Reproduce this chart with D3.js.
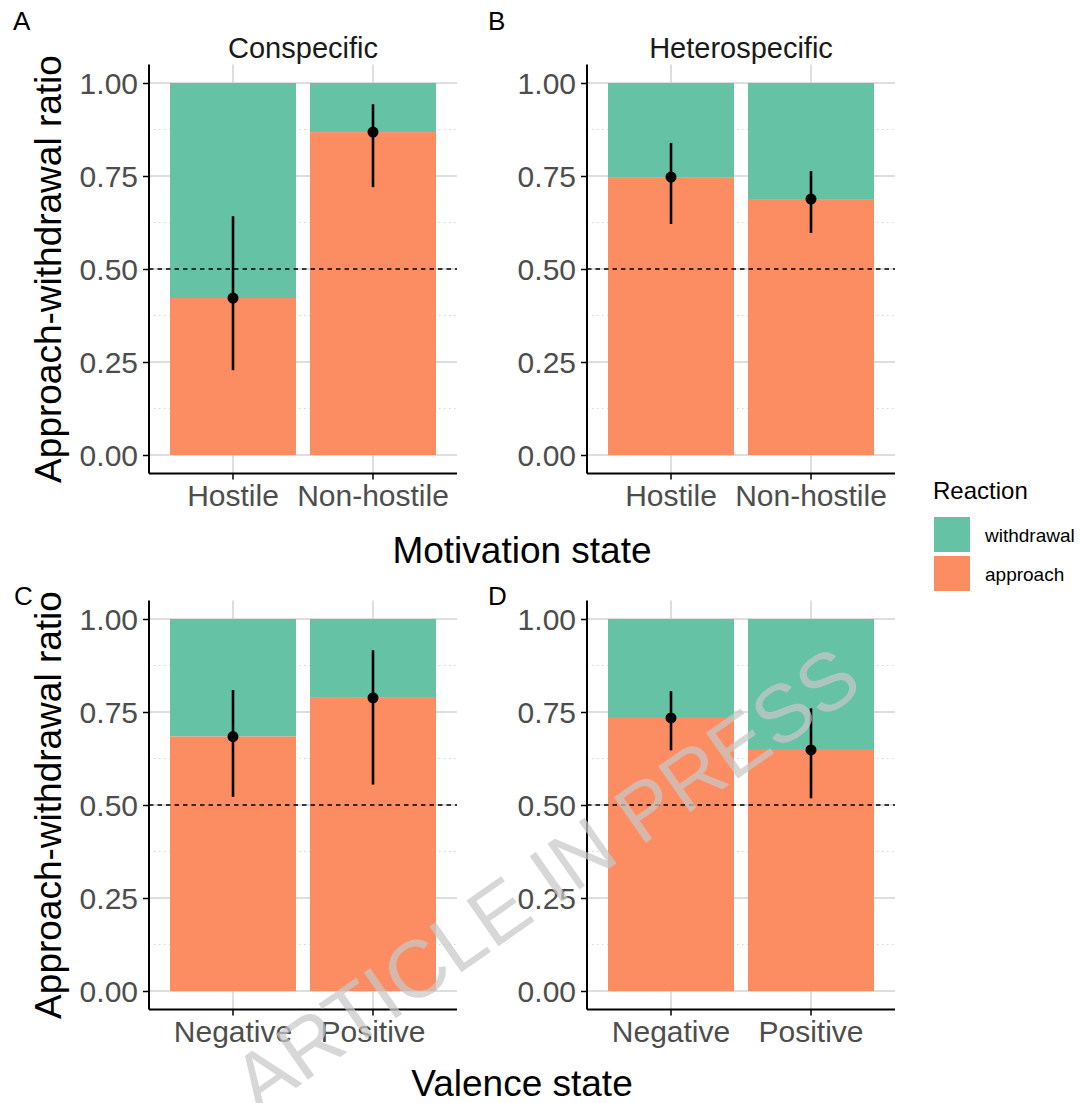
<!DOCTYPE html>
<html>
<head>
<meta charset="utf-8">
<script src="https://cdn.jsdelivr.net/npm/d3@7"></script>
<style>
  html, body { margin: 0; padding: 0; background: #fff; }
  svg { display: block; font-family: "Liberation Sans", Arial, sans-serif; }
</style>
</head>
<body>
<svg id="chart" width="1080" height="1103"></svg>
<script>
// ---------- data ----------
const facetTitles = ["Conspecific", "Heterospecific"];
const motivationCats = ["Hostile", "Non-hostile"];
const valenceCats = ["Negative", "Positive"];
const panelLetters = ["A", "B", "C", "D"];

// approach proportion (bar split), CI low, CI high
const conspecificMotivation     = [0.422, 0.868];
const conspecificMotivationLow  = [0.228, 0.720];
const conspecificMotivationHigh = [0.642, 0.943];

const heterospecificMotivation     = [0.747, 0.688];
const heterospecificMotivationLow  = [0.621, 0.597];
const heterospecificMotivationHigh = [0.839, 0.763];

const conspecificValence     = [0.684, 0.788];
const conspecificValenceLow  = [0.522, 0.555];
const conspecificValenceHigh = [0.809, 0.916];

const heterospecificValence     = [0.734, 0.648];
const heterospecificValenceLow  = [0.647, 0.518];
const heterospecificValenceHigh = [0.806, 0.760];

const yTicks = [0, 0.25, 0.5, 0.75, 1];
const yMinorTicks = [0.125, 0.375, 0.625, 0.875];
const reactionLabels = ["withdrawal", "approach"];
const reactionColors = ["#66c2a5", "#fc8d62"];
const referenceLine = 0.5;

// ---------- layout ----------
const svg = d3.select("#chart");
const FONT = '"Liberation Sans", Arial, sans-serif';
const panelW = 308;
const colX = [149, 587];
const rowY = [{ top: 64.4, bottom: 473.6 }, { top: 600.4, bottom: 1009.6 }];

const panelsDef = [
  { letter: panelLetters[0], col: 0, row: 0, cats: motivationCats, p: conspecificMotivation, lo: conspecificMotivationLow, hi: conspecificMotivationHigh, strip: facetTitles[0] },
  { letter: panelLetters[1], col: 1, row: 0, cats: motivationCats, p: heterospecificMotivation, lo: heterospecificMotivationLow, hi: heterospecificMotivationHigh, strip: facetTitles[1] },
  { letter: panelLetters[2], col: 0, row: 1, cats: valenceCats, p: conspecificValence, lo: conspecificValenceLow, hi: conspecificValenceHigh, strip: null },
  { letter: panelLetters[3], col: 1, row: 1, cats: valenceCats, p: heterospecificValence, lo: heterospecificValenceLow, hi: heterospecificValenceHigh, strip: null }
];

const letterPos = [[13, 30], [488, 30], [14, 605], [488, 605]];

panelsDef.forEach((pd, idx) => {
  const x0 = colX[pd.col], x1 = x0 + panelW;
  const r = rowY[pd.row];
  const y = d3.scaleLinear().domain([-0.05, 1.05]).range([r.bottom, r.top]);
  const x = d3.scaleBand().domain(pd.cats).range([x0, x1]).paddingInner(0.1).paddingOuter(0.15);
  const g = svg.append("g");

  // minor gridlines
  g.selectAll("line.minor").data(yMinorTicks).join("line")
    .attr("x1", x0).attr("x2", x1)
    .attr("y1", d => y(d)).attr("y2", d => y(d))
    .attr("stroke", "#d6d6d6").attr("stroke-width", 1).attr("stroke-dasharray", "1.5,3.5");
  // major gridlines
  g.selectAll("line.major").data(yTicks).join("line")
    .attr("x1", x0).attr("x2", x1)
    .attr("y1", d => y(d)).attr("y2", d => y(d))
    .attr("stroke", "#d3d3d3").attr("stroke-width", 1.5);
  g.selectAll("line.vmajor").data(pd.cats).join("line")
    .attr("x1", d => x(d) + x.bandwidth() / 2).attr("x2", d => x(d) + x.bandwidth() / 2)
    .attr("y1", r.top).attr("y2", r.bottom)
    .attr("stroke", "#d3d3d3").attr("stroke-width", 1.5);

  // stacked bars
  const rows = pd.cats.map((c, i) => ({ c, p: pd.p[i], lo: pd.lo[i], hi: pd.hi[i] }));
  g.selectAll("rect.withdraw").data(rows).join("rect")
    .attr("x", d => x(d.c)).attr("width", x.bandwidth())
    .attr("y", y(1)).attr("height", d => y(d.p) - y(1))
    .attr("fill", reactionColors[0]);
  g.selectAll("rect.approach").data(rows).join("rect")
    .attr("x", d => x(d.c)).attr("width", x.bandwidth())
    .attr("y", d => y(d.p)).attr("height", d => y(0) - y(d.p))
    .attr("fill", reactionColors[1]);

  // reference line
  g.append("line")
    .attr("x1", x0).attr("x2", x1)
    .attr("y1", y(referenceLine)).attr("y2", y(referenceLine))
    .attr("stroke", "#000").attr("stroke-width", 1.3).attr("stroke-dasharray", "4.5,4");

  // error bars + points
  g.selectAll("line.err").data(rows).join("line")
    .attr("x1", d => x(d.c) + x.bandwidth() / 2).attr("x2", d => x(d.c) + x.bandwidth() / 2)
    .attr("y1", d => y(d.lo)).attr("y2", d => y(d.hi))
    .attr("stroke", "#000").attr("stroke-width", 2.6);
  g.selectAll("circle.pt").data(rows).join("circle")
    .attr("cx", d => x(d.c) + x.bandwidth() / 2).attr("cy", d => y(d.p))
    .attr("r", 5.5).attr("fill", "#000");

  // axes
  const yAxis = d3.axisLeft(y).tickValues(yTicks).tickFormat(d3.format(".2f")).tickSize(6).tickPadding(5);
  const ya = g.append("g").attr("transform", `translate(${x0},0)`).call(yAxis);
  ya.select(".domain").attr("d", `M0,${r.top}V${r.bottom}`).attr("stroke", "#000").attr("stroke-width", 2);
  ya.selectAll(".tick line").attr("stroke", "#000").attr("stroke-width", 1.5);
  ya.selectAll(".tick text").attr("fill", "#4d4d4d").attr("font-size", 30).attr("font-family", FONT).attr("dy", "0.36em");

  const xAxis = d3.axisBottom(x).tickSize(6).tickPadding(4);
  const xa = g.append("g").attr("transform", `translate(0,${r.bottom})`).call(xAxis);
  xa.select(".domain").attr("d", `M${x0},0H${x1}`).attr("stroke", "#000").attr("stroke-width", 2);
  xa.selectAll(".tick line").attr("stroke", "#000").attr("stroke-width", 1.5);
  xa.selectAll(".tick text").attr("fill", "#4d4d4d").attr("font-size", 30).attr("font-family", FONT).attr("dy", "0.75em");

  // strip title
  if (pd.strip) {
    svg.append("text").attr("x", (x0 + x1) / 2).attr("y", 58)
      .attr("text-anchor", "middle").attr("font-size", 29).attr("fill", "#1a1a1a")
      .text(pd.strip);
  }
  // panel letter
  svg.append("text").attr("x", letterPos[idx][0]).attr("y", letterPos[idx][1])
    .attr("font-size", 26).attr("fill", "#000").text(pd.letter);

  // y axis title (left column only)
  if (pd.col === 0) {
    const cy = (r.top + r.bottom) / 2;
    svg.append("text").attr("transform", `translate(61,${cy}) rotate(-90)`)
      .attr("text-anchor", "middle").attr("font-size", 37).attr("fill", "#000")
      .text("Approach-withdrawal ratio");
  }
});

// x axis titles
svg.append("text").attr("x", 522).attr("y", 563).attr("text-anchor", "middle")
  .attr("font-size", 37).attr("fill", "#000").text("Motivation state");
svg.append("text").attr("x", 522).attr("y", 1096).attr("text-anchor", "middle")
  .attr("font-size", 37).attr("fill", "#000").text("Valence state");

// legend
svg.append("text").attr("x", 933).attr("y", 499).attr("font-size", 24).attr("fill", "#000").text("Reaction");
const lg = svg.append("g");
lg.selectAll("rect").data(reactionLabels).join("rect")
  .attr("x", 934).attr("y", (d, i) => 517 + i * 39)
  .attr("width", 36).attr("height", 35)
  .attr("fill", (d, i) => reactionColors[i]);
lg.selectAll("text").data(reactionLabels).join("text")
  .attr("x", 985).attr("y", (d, i) => 535 + i * 39).attr("dy", "0.35em")
  .attr("font-size", 19).attr("fill", "#000").text(d => d);

// watermark
svg.append("text")
  .attr("transform", "translate(545,878) rotate(-35)")
  .attr("text-anchor", "middle").attr("dy", "0.36em")
  .attr("font-size", 81).attr("fill", "rgb(200,200,200)").attr("fill-opacity", 0.72)
  .text("ARTICLE IN PRESS");
</script>
</body>
</html>
